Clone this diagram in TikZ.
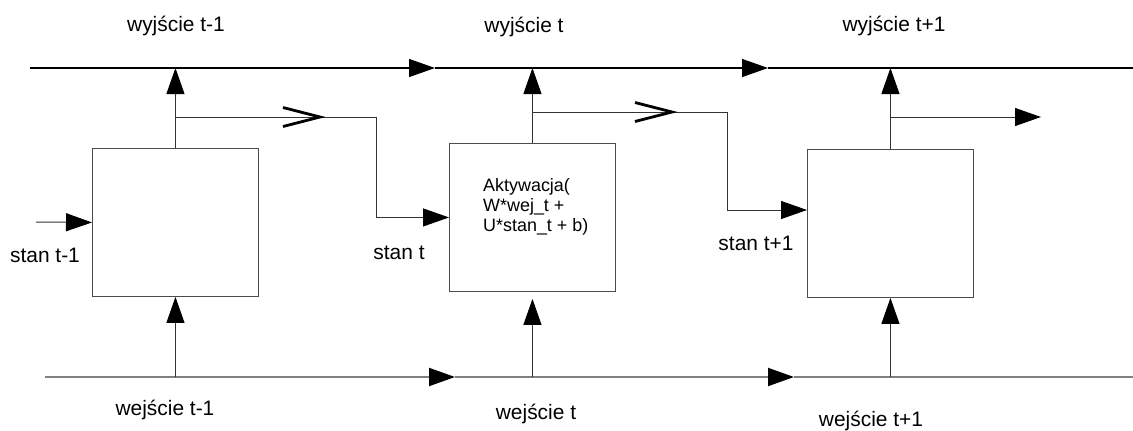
\documentclass[tikz,border=0pt]{standalone}
\usepackage{fontspec}
\setmainfont{Liberation Sans}
\usetikzlibrary{arrows.meta}

\tikzset{
  cell/.style={draw=black!70, line width=0.9bp, minimum width=166bp, minimum height=148bp, inner sep=0pt},
  lbl/.style={font=\fontsize{21}{25}\selectfont, inner sep=0pt},
  wire/.style={draw=black!80, line width=1bp},
  topline/.style={draw=black, line width=1.3bp},
  botline/.style={draw=black!50, line width=2bp},
  tip/.style={-{Triangle[length=26bp, width=18bp, color=black, fill=black]}},
  chev/.style={draw=black, line width=2.8bp, miter limit=20}
}

\begin{document}
\begin{tikzpicture}[x=1bp, y=-1bp]
  \useasboundingbox (0,0) rectangle (1133,430);

  % the three cells
  \node[cell, anchor=north west] (c1) at (92,148) {};
  \node[cell, anchor=north west] (c2) at (449,143) {};
  \node[cell, anchor=north west] (c3) at (807,149) {};
  \node[anchor=north west, align=left, inner sep=0pt, font=\fontsize{18}{20}\selectfont] (akt) at (483,178)
    {Aktywacja(\\W*wej\_t +\\U*stan\_t + b)};

  % output line on top
  \coordinate (top0) at (30,68);
  \coordinate (top1) at (435,68);
  \coordinate (top2) at (768,68);
  \coordinate (top3) at (1133,68);
  \draw[topline, tip] (top0) -- (top1);
  \draw[topline, tip] (top1) -- (top2);
  \draw[topline] (top2) -- (top3);

  % input line at the bottom
  \coordinate (bot0) at (45,377);
  \coordinate (bot1) at (455,377);
  \coordinate (bot2) at (794,377);
  \coordinate (bot3) at (1133,377);
  \draw[botline, tip] (bot0) -- (bot1);
  \draw[botline, tip] (bot1) -- (bot2);
  \draw[botline] (bot2) -- (bot3);

  % outputs of the cells
  \draw[wire, tip] (c1.north) -- (c1.north |- top0);
  \draw[wire, tip] (c2.north) -- (c2.north |- top0);
  \draw[wire, tip] (c3.north) -- (c3.north |- top0);

  % inputs of the cells
  \draw[wire, tip] (c1.south |- bot0) -- (c1.south);
  \draw[wire, tip, shorten >=7bp] (c2.south |- bot0) -- (c2.south);
  \draw[wire, tip] (c3.south |- bot0) -- (c3.south);

  % state passed on to the next cell
  \coordinate (s0) at (36,222);
  \draw[wire, tip] (s0) -- (c1.west);
  \path (c1.north) ++(0,-31) coordinate (b1);
  \path (c2.north) ++(0,-31) coordinate (b2);
  \path (c3.north) ++(0,-32) coordinate (b3);
  \coordinate (k1) at (376,117);
  \coordinate (k2) at (727,210);
  \coordinate (e3) at (1041,117);
  \draw[wire, tip] (b1) -| (k1 |- c2.west) -- (c2.west);
  \draw[wire, tip] (b2) -| (k2) -- (k2 -| c3.west);
  \draw[wire, tip] (b3) -- (e3);
  \draw[chev] (320,117) ++(-37,-9.5) -- ++(37,9.5) -- ++(-37,9.5);
  \draw[chev] (672,112) ++(-37,-9.5) -- ++(37,9.5) -- ++(-37,9.5);

  % labels
  \node[lbl] (wy1) at (176,26) {wyjście t-1};
  \node[lbl] (wy2) at (524,27) {wyjście t};
  \node[lbl] (wy3) at (894,26) {wyjście t+1};
  \node[lbl] (st1) at (45,255) {stan t-1};
  \node[lbl] (st2) at (399,253) {stan t};
  \node[lbl] (st3) at (756,243) {stan t+1};
  \node[lbl] (we1) at (165,410) {wejście t-1};
  \node[lbl] (we2) at (536,414) {wejście t};
  \node[lbl] (we3) at (871,421) {wejście t+1};
\end{tikzpicture}
\end{document}
